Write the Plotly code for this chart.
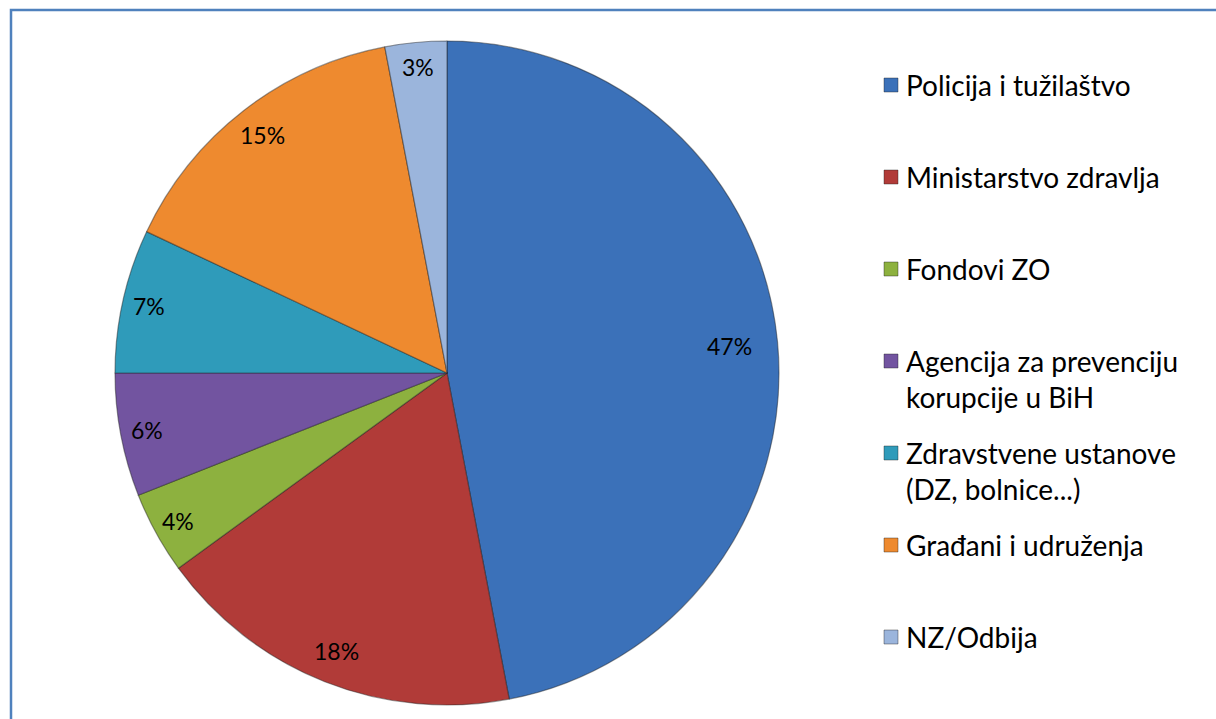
import math
import plotly.graph_objects as go

W, H = 1216, 719

categories = [
    "Policija i tužilaštvo",
    "Ministarstvo zdravlja",
    "Fondovi ZO",
    "Agencija za prevenciju<br>korupcije u BiH",
    "Zdravstvene ustanove<br>(DZ, bolnice...)",
    "Građani i udruženja",
    "NZ/Odbija",
]
shares = [47, 18, 4, 6, 7, 15, 3]
colors = ["#3b71b9", "#b13b38", "#8db13f", "#7254a0", "#2f9bba", "#ee8a2f", "#9bb5dc"]


def px(x):
    return x / W


def py(y):
    return 1 - y / H


# pie geometry in pixels
cx, cy, r = 447, 373, 332

fig = go.Figure()
fig.add_trace(go.Pie(
    labels=[c.replace("<br>", " ") for c in categories],
    values=shares,
    sort=False,
    direction="clockwise",
    rotation=0,
    textinfo="none",
    hoverinfo="label+percent",
    marker=dict(colors=colors, line=dict(color="rgba(30,30,30,0.45)", width=1.2)),
    domain=dict(x=[px(cx - r), px(cx + r)], y=[py(cy + r), py(cy - r)]),
    showlegend=False,
))

annotations = []
total = sum(shares)
cum = 0
for v in shares:
    frac = v / total
    mid = (cum + frac / 2) * 2 * math.pi
    cum += frac
    rf = 0.85 + 0.08 * (1 - frac / 0.5)
    lx = cx + r * rf * math.sin(mid)
    ly = cy - r * rf * math.cos(mid)
    annotations.append(dict(
        x=px(lx), y=py(ly), xref="paper", yref="paper",
        text=f"{round(frac * 100)}%", showarrow=False,
        font=dict(family="Lato", size=23, color="#000000"),
        xanchor="center", yanchor="middle",
    ))

# legend drawn at the right
shapes = [dict(type="rect", xref="paper", yref="paper",
               x0=px(11), y0=py(10), x1=px(W + 20), y1=py(H + 20),
               line=dict(color="#4f81bd", width=2.5), fillcolor="rgba(0,0,0,0)")]
for i, (name, col) in enumerate(zip(categories, colors)):
    ty = 85 + i * 92
    shapes.append(dict(type="rect", xref="paper", yref="paper",
                       x0=px(884), x1=px(898), y0=py(ty + 7), y1=py(ty - 7),
                       fillcolor=col, line=dict(color="rgba(30,30,30,0.4)", width=1)))
    annotations.append(dict(
        x=px(904), y=py(ty - 19), xref="paper", yref="paper",
        text=name, showarrow=False, align="left",
        xanchor="left", yanchor="top",
        font=dict(family="Lato", size=28, color="#000000"),
    ))

fig.update_layout(
    width=W, height=H,
    margin=dict(l=0, r=0, t=0, b=0),
    paper_bgcolor="white",
    plot_bgcolor="white",
    shapes=shapes,
    annotations=annotations,
)

fig.write_html("out.html")
